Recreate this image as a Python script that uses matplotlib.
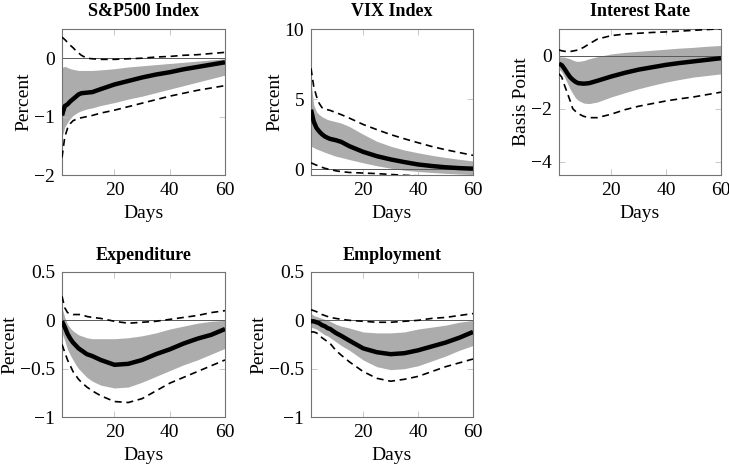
import matplotlib
matplotlib.use('Agg')
import matplotlib.pyplot as plt
from matplotlib.ticker import FixedLocator, FuncFormatter

plt.rcParams['font.family'] = ['Liberation Serif', 'DejaVu Serif']
plt.rcParams['font.size'] = 14

days = [1, 2, 3, 4, 5, 6, 7, 8, 10, 12, 15, 20, 25, 30, 35, 40, 45, 50, 55, 60]

# S&P500 index
sp_mean = [-0.98, -0.82, -0.79, -0.74, -0.70, -0.66, -0.62, -0.60, -0.59, -0.58, -0.53, -0.45, -0.39, -0.33, -0.28, -0.24, -0.19, -0.15, -0.11, -0.07]
sp_band_hi = [-0.16, -0.14, -0.16, -0.18, -0.19, -0.20, -0.21, -0.21, -0.21, -0.21, -0.20, -0.18, -0.15, -0.13, -0.11, -0.09, -0.07, -0.05, -0.03, -0.01]
sp_band_lo = [-1.35, -1.18, -1.10, -1.03, -0.98, -0.95, -0.92, -0.90, -0.87, -0.85, -0.81, -0.76, -0.70, -0.65, -0.59, -0.53, -0.47, -0.41, -0.35, -0.29]
sp_dash_hi = [0.36, 0.32, 0.27, 0.22, 0.18, 0.13, 0.09, 0.05, 0.0, -0.01, -0.02, -0.02, -0.01, 0.0, 0.02, 0.03, 0.05, 0.06, 0.08, 0.10]
sp_dash_lo = [-1.70, -1.35, -1.20, -1.12, -1.07, -1.05, -1.03, -1.02, -1.0, -0.98, -0.94, -0.89, -0.83, -0.77, -0.71, -0.65, -0.60, -0.55, -0.51, -0.47]

# VIX index
vix_mean = [4.25, 3.4, 2.95, 2.7, 2.5, 2.35, 2.25, 2.17, 2.08, 1.96, 1.65, 1.25, 0.94, 0.71, 0.52, 0.35, 0.24, 0.15, 0.09, 0.05]
vix_band_hi = [6.2, 4.6, 4.1, 3.9, 3.75, 3.65, 3.55, 3.5, 3.4, 3.3, 3.05, 2.5, 2.0, 1.65, 1.38, 1.18, 1.0, 0.85, 0.72, 0.6]
vix_band_lo = [1.65, 1.55, 1.45, 1.38, 1.3, 1.22, 1.15, 1.08, 0.94, 0.85, 0.7, 0.47, 0.26, 0.08, -0.06, -0.15, -0.22, -0.28, -0.33, -0.37]
vix_dash_hi = [7.2, 5.9, 5.2, 4.7, 4.4, 4.3, 4.25, 4.2, 4.05, 3.9, 3.65, 3.2, 2.83, 2.48, 2.18, 1.9, 1.63, 1.4, 1.2, 1.0]
vix_dash_lo = [0.47, 0.38, 0.30, 0.22, 0.15, 0.08, 0.03, 0.0, -0.1, -0.16, -0.22, -0.26, -0.30, -0.36, -0.42, -0.46, -0.5, -0.53, -0.56, -0.6]

# Interest rate
ir_mean = [-0.31, -0.36, -0.5, -0.66, -0.81, -0.91, -0.99, -1.04, -1.06, -1.04, -0.95, -0.79, -0.65, -0.53, -0.44, -0.35, -0.28, -0.22, -0.16, -0.1]
ir_band_hi = [-0.04, -0.05, -0.06, -0.09, -0.12, -0.17, -0.21, -0.22, -0.19, -0.12, -0.04, 0.06, 0.12, 0.16, 0.20, 0.24, 0.28, 0.31, 0.35, 0.38]
ir_band_lo = [-0.5, -0.62, -0.81, -1.03, -1.25, -1.43, -1.59, -1.69, -1.79, -1.81, -1.75, -1.56, -1.40, -1.25, -1.12, -1.0, -0.9, -0.81, -0.75, -0.69]
ir_dash_hi = [0.21, 0.18, 0.16, 0.15, 0.15, 0.17, 0.19, 0.21, 0.31, 0.44, 0.62, 0.75, 0.81, 0.84, 0.87, 0.89, 0.92, 0.95, 0.98, 1.01]
ir_dash_lo = [-0.69, -0.81, -1.12, -1.40, -1.69, -2.0, -2.1, -2.19, -2.29, -2.34, -2.34, -2.21, -2.04, -1.91, -1.81, -1.71, -1.63, -1.56, -1.47, -1.38]

# Expenditure
ex_mean = [-0.01, -0.07, -0.14, -0.19, -0.23, -0.26, -0.29, -0.31, -0.35, -0.37, -0.41, -0.46, -0.45, -0.41, -0.35, -0.30, -0.24, -0.19, -0.15, -0.09]
ex_band_hi = [0.13, 0.03, -0.04, -0.08, -0.11, -0.13, -0.15, -0.16, -0.18, -0.19, -0.19, -0.19, -0.18, -0.16, -0.13, -0.09, -0.06, -0.03, -0.01, 0.0]
ex_band_lo = [-0.13, -0.21, -0.30, -0.36, -0.41, -0.46, -0.50, -0.53, -0.59, -0.63, -0.67, -0.70, -0.69, -0.64, -0.58, -0.52, -0.46, -0.41, -0.35, -0.29]
ex_dash_hi = [0.25, 0.13, 0.08, 0.07, 0.06, 0.06, 0.06, 0.06, 0.04, 0.03, 0.02, -0.01, -0.03, -0.02, -0.01, 0.01, 0.03, 0.05, 0.08, 0.10]
ex_dash_lo = [-0.25, -0.33, -0.41, -0.47, -0.53, -0.57, -0.61, -0.64, -0.69, -0.73, -0.78, -0.84, -0.85, -0.81, -0.73, -0.65, -0.59, -0.53, -0.47, -0.41]

# Employment
em_mean = [-0.01, -0.01, -0.02, -0.03, -0.05, -0.06, -0.08, -0.09, -0.13, -0.16, -0.21, -0.29, -0.33, -0.35, -0.34, -0.31, -0.27, -0.23, -0.18, -0.12]
em_band_hi = [0.07, 0.05, 0.04, 0.03, 0.02, 0.01, 0.0, -0.01, -0.04, -0.06, -0.08, -0.12, -0.13, -0.13, -0.12, -0.09, -0.07, -0.05, -0.02, 0.0]
em_band_lo = [-0.07, -0.08, -0.09, -0.11, -0.13, -0.15, -0.16, -0.18, -0.22, -0.26, -0.31, -0.41, -0.48, -0.51, -0.50, -0.47, -0.42, -0.37, -0.31, -0.26]
em_dash_hi = [0.11, 0.10, 0.09, 0.07, 0.06, 0.05, 0.04, 0.03, 0.02, 0.01, 0.0, -0.01, -0.02, -0.02, -0.01, 0.0, 0.02, 0.03, 0.05, 0.07]
em_dash_lo = [-0.12, -0.12, -0.13, -0.15, -0.18, -0.20, -0.22, -0.24, -0.31, -0.36, -0.43, -0.53, -0.60, -0.63, -0.61, -0.58, -0.53, -0.48, -0.44, -0.40]

panels = [
    ('S&P500 Index', 'Percent', sp_mean, sp_band_lo, sp_band_hi, sp_dash_lo, sp_dash_hi, (-2, 0.5), [-2, -1, 0]),
    ('VIX Index', 'Percent', vix_mean, vix_band_lo, vix_band_hi, vix_dash_lo, vix_dash_hi, (-0.4, 10), [0, 5, 10]),
    ('Interest Rate', 'Basis Point', ir_mean, ir_band_lo, ir_band_hi, ir_dash_lo, ir_dash_hi, (-4.5, 1), [-4, -2, 0]),
    ('Expenditure', 'Percent', ex_mean, ex_band_lo, ex_band_hi, ex_dash_lo, ex_dash_hi, (-1, 0.5), [-1, -0.5, 0, 0.5]),
    ('Employment', 'Percent', em_mean, em_band_lo, em_band_hi, em_dash_lo, em_dash_hi, (-1, 0.5), [-1, -0.5, 0, 0.5]),
]

# axes boxes in pixels (left, top, right, bottom) of a 729x467 canvas
W, H = 729.0, 467.0
boxes = [(62, 29, 225, 175), (311, 29, 473, 175), (559, 29, 721, 175),
         (62, 272, 225, 417), (311, 272, 473, 417)]

fmt = FuncFormatter(lambda v, pos: ('%g' % v).replace('-', '\u2212'))

fig = plt.figure(figsize=(7.29, 4.67), dpi=100)
for (title, ylabel, mean, blo, bhi, dlo, dhi, ylim, yticks), (l, t, r, b) in zip(panels, boxes):
    ax = fig.add_axes([l / W, 1 - b / H, (r - l) / W, (b - t) / H])
    ax.fill_between(days, blo, bhi, color='#acacac', lw=0, zorder=1)
    ax.axhline(0, color='0.35', lw=0.7, zorder=2)
    ax.plot(days, dhi, color='black', lw=1.2, ls=(0, (4.2, 2.8)), zorder=3)
    ax.plot(days, dlo, color='black', lw=1.2, ls=(0, (4.2, 2.8)), zorder=3)
    ax.plot(days, mean, color='black', lw=3.2, solid_capstyle='butt', zorder=4)
    ax.set_xlim(1, 60)
    ax.set_ylim(*ylim)
    ax.xaxis.set_major_locator(FixedLocator([20, 40, 60]))
    ax.yaxis.set_major_locator(FixedLocator(yticks))
    ax.yaxis.set_major_formatter(fmt)
    ax.tick_params(direction='in', length=4, width=0.6, color='0.75',
                   top=True, right=True, labelsize=14, pad=5)
    for s in ax.spines.values():
        s.set_color('0.45')
        s.set_linewidth(0.8)
    ax.set_title(title, fontweight='bold', fontsize=13, pad=9)
    ax.set_xlabel('Days', fontsize=14, labelpad=4)
    ax.set_ylabel(ylabel, fontsize=14, labelpad=1)

plt.savefig('out.png', dpi=100)
